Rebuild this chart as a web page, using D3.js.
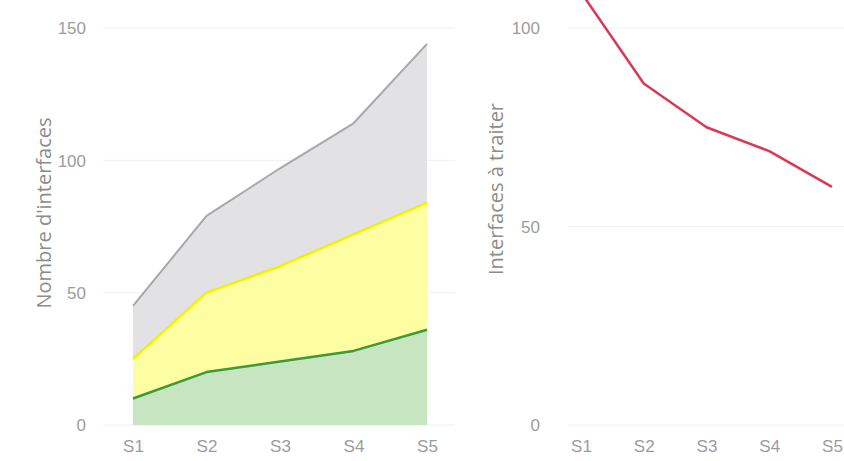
<!DOCTYPE html>
<html><head><meta charset="utf-8">
<script src="https://cdn.jsdelivr.net/npm/d3@7"></script>
<style>
html,body{margin:0;padding:0;background:#fff;}
svg{display:block;font-family:"Segoe UI","Open Sans","Noto Sans",sans-serif;}
</style></head>
<body>
<svg id="c" width="844" height="461"></svg>
<script>
// ---- data ----
const categories = ["S1","S2","S3","S4","S5"];
// stacked area series (segment values, bottom to top)
const seriesNames = ["vert","jaune","gris"];
const greenValues  = [10, 20, 24, 28, 36];
const yellowValues = [15, 30, 36, 44, 48];
const grayValues   = [20, 29, 37, 42, 60];
const leftTicks = [0, 50, 100, 150];
// line chart
const remainingValues = [109, 86, 75, 69, 60];
const rightTicks = [0, 50, 100];

const fillColors = {vert:"#c6e5c0", jaune:"#fdfda2", gris:"#e2e1e4"};
const lineColors = {vert:"#3c9a3c", jaune:"#f2f200", gris:"#a8a8a8"};
const lineWidths = {vert:2.5, jaune:2.5, gris:2};

const svg = d3.select("#c");
const textColor = "#9c9c9c";
const tickFont = "17px";
const titleFont = "20px";

// ---- left chart ----
const xL = d3.scalePoint().domain(categories).range([133, 427]);
const yL = d3.scaleLinear().domain([0, 150]).range([425, 28]);

const gL = svg.append("g");
gL.selectAll("line.grid").data(leftTicks).join("line")
  .attr("x1", 103).attr("x2", 455)
  .attr("y1", d => yL(d)).attr("y2", d => yL(d))
  .attr("stroke", "#f0f0f0").attr("stroke-width", 1);

const rows = categories.map((c, i) => ({cat: c, vert: greenValues[i], jaune: yellowValues[i], gris: grayValues[i]}));
const stacked = d3.stack().keys(seriesNames)(rows);

const area = d3.area().x(d => xL(d.data.cat)).y0(d => yL(d[0])).y1(d => yL(d[1]));
const topLine = d3.line().x(d => xL(d.data.cat)).y(d => yL(d[1]));

gL.selectAll("path.area").data(stacked).join("path")
  .attr("d", area).attr("fill", d => fillColors[d.key]).attr("stroke", "none");
gL.selectAll("path.line").data(stacked.slice().reverse()).join("path")
  .attr("d", topLine).attr("fill", "none")
  .attr("stroke", d => lineColors[d.key]).attr("stroke-width", d => lineWidths[d.key])
  .attr("stroke-linejoin", "round");

const axL = d3.axisLeft(yL).tickValues(leftTicks).tickSize(0).tickPadding(0);
gL.append("g").attr("transform", "translate(86,0)").call(axL)
  .call(g => g.select(".domain").remove())
  .call(g => g.selectAll("text").attr("fill", textColor).style("font-size", tickFont).attr("dy", "0.35em"));

const axLX = d3.axisBottom(xL).tickSize(0).tickPadding(0);
gL.append("g").attr("transform", "translate(0,440)").call(axLX)
  .call(g => g.select(".domain").remove())
  .call(g => g.selectAll("text").attr("fill", textColor).style("font-size", tickFont).attr("dy", "0.71em"));

gL.append("text").attr("transform", "translate(51,213) rotate(-90)")
  .attr("text-anchor", "middle").attr("fill", "#8c8c8c").style("font-size", titleFont)
  .text("Nombre d'interfaces");

// ---- right chart ----
const xR = d3.scalePoint().domain(categories).range([581, 832]);
const yR = d3.scaleLinear().domain([0, 100]).range([425, 28]);

const gR = svg.append("g");
gR.selectAll("line.grid").data(rightTicks).join("line")
  .attr("x1", 568).attr("x2", 844)
  .attr("y1", d => yR(d)).attr("y2", d => yR(d))
  .attr("stroke", "#f0f0f0").attr("stroke-width", 1);

const redLine = d3.line().x((d, i) => xR(categories[i])).y(d => yR(d));
gR.append("path").datum(remainingValues).attr("d", redLine)
  .attr("fill", "none").attr("stroke", "#d83a56").attr("stroke-width", 2.5)
  .attr("stroke-linejoin", "round");

const axR = d3.axisLeft(yR).tickValues(rightTicks).tickSize(0).tickPadding(0);
gR.append("g").attr("transform", "translate(540,0)").call(axR)
  .call(g => g.select(".domain").remove())
  .call(g => g.selectAll("text").attr("fill", textColor).style("font-size", tickFont).attr("dy", "0.35em"));

const axRX = d3.axisBottom(xR).tickSize(0).tickPadding(0);
gR.append("g").attr("transform", "translate(0,440)").call(axRX)
  .call(g => g.select(".domain").remove())
  .call(g => g.selectAll("text").attr("fill", textColor).style("font-size", tickFont).attr("dy", "0.71em"));

gR.append("text").attr("transform", "translate(503,189) rotate(-90)")
  .attr("text-anchor", "middle").attr("fill", "#8c8c8c").style("font-size", titleFont)
  .text("Interfaces à traiter");
</script>
</body></html>
